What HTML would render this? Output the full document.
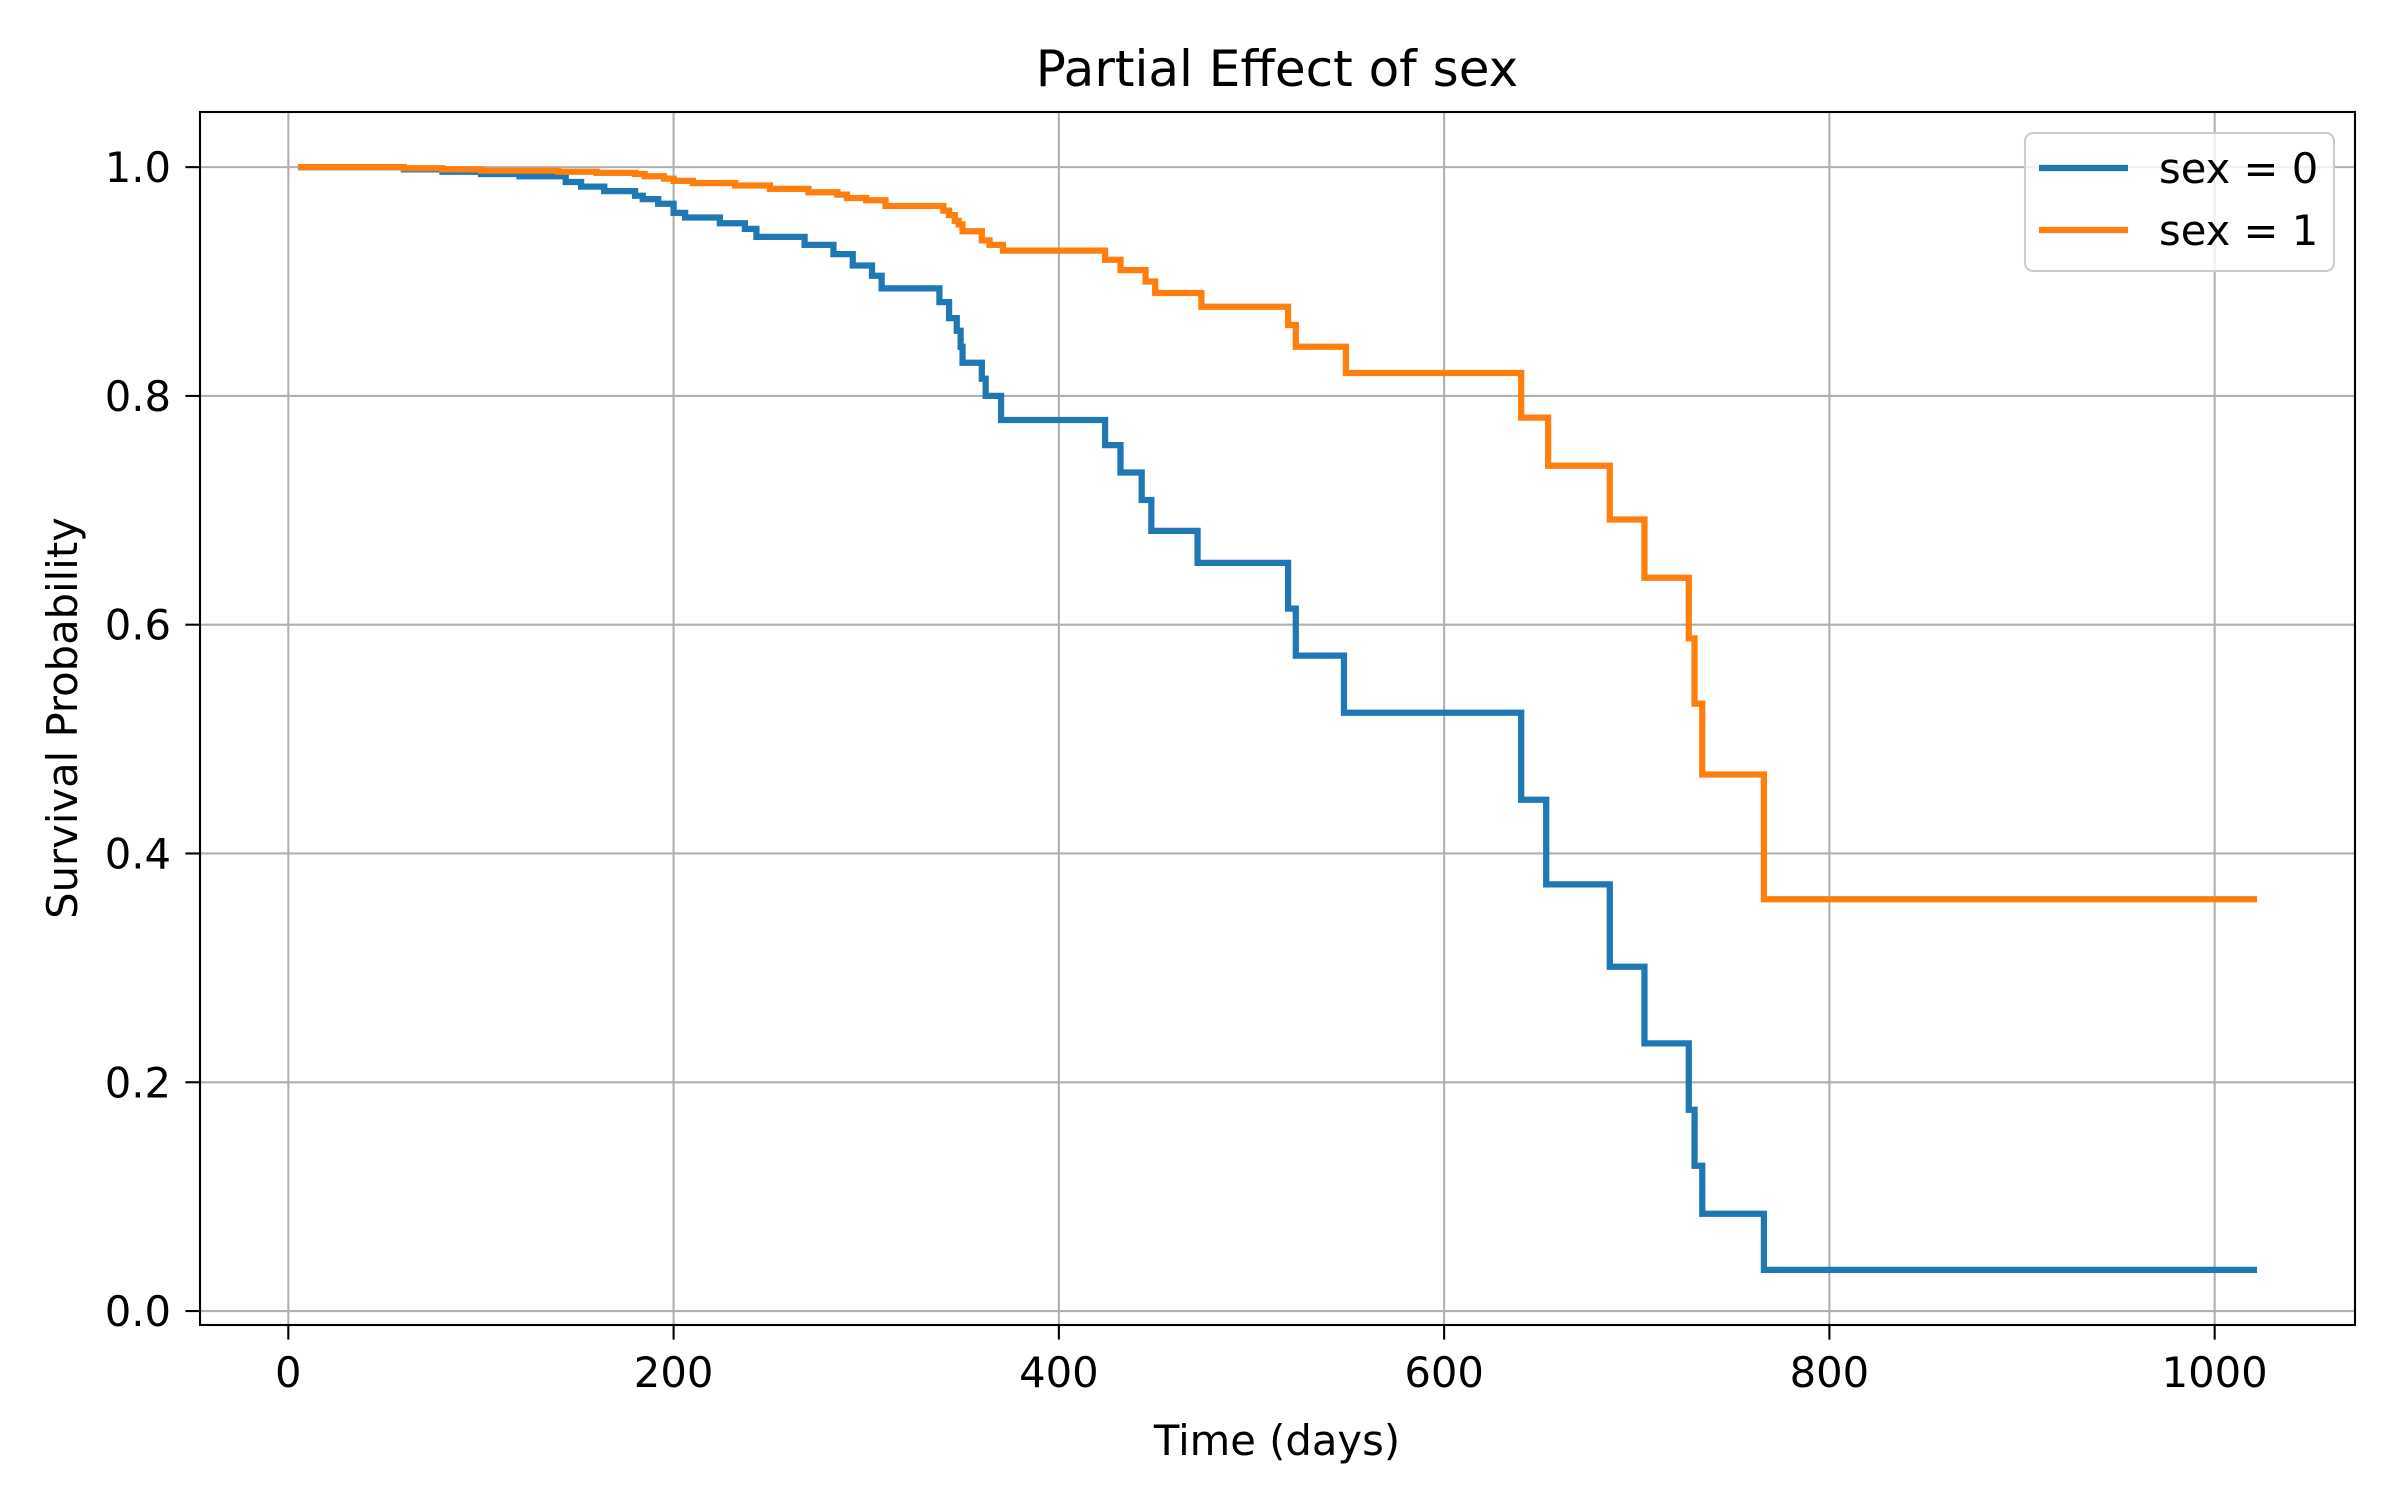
<!DOCTYPE html>
<html><head><meta charset="utf-8"><style>
html,body{margin:0;padding:0;background:#fff}
svg{display:block;font-family:"DejaVu Sans","Liberation Sans",sans-serif}
</style></head><body>
<svg id="chart" width="2400" height="1500" viewBox="0 0 2400 1500" xmlns="http://www.w3.org/2000/svg">
<rect width="2400" height="1500" fill="#fff"/>
<g id="grid"></g>
<g id="series"></g>
<rect x="200" y="112" width="2155" height="1213" fill="none" stroke="#000" stroke-width="2.1"/>
<g id="ticks" font-size="41.7" fill="#000"></g>
<text x="1277" y="86" font-size="50" text-anchor="middle">Partial Effect of sex</text>
<text x="1277" y="1455" font-size="41.7" text-anchor="middle">Time (days)</text>
<text transform="translate(77,718) rotate(-90)" font-size="41.7" text-anchor="middle">Survival Probability</text>
<g>
<rect x="2025" y="133" width="309" height="138" rx="8" fill="#fff" fill-opacity="0.8" stroke="#ccc" stroke-width="2.1"/>
<line x1="2039" y1="168" x2="2128" y2="168" stroke="#1f77b4" stroke-width="6.25"/>
<text x="2159" y="183" font-size="41.7">sex = 0</text>
<line x1="2039" y1="230" x2="2128" y2="230" stroke="#ff7f0e" stroke-width="6.25"/>
<text x="2159" y="245" font-size="41.7">sex = 1</text>
</g>
</svg>
<script>
const xTicks = [0, 200, 400, 600, 800, 1000];
const yTicks = [0.0, 0.2, 0.4, 0.6, 0.8, 1.0];
const yTickLabels = ["0.0", "0.2", "0.4", "0.6", "0.8", "1.0"];
const sex0Times = [5, 60, 80, 100, 120, 144, 152, 164, 180, 184, 192, 200, 206, 224, 237, 243, 268, 283, 293, 303, 308, 338, 343, 347, 349, 350, 360, 362, 370, 424, 432, 443, 448, 472, 519, 523, 548, 640, 653, 686, 704, 727, 730, 734, 766, 1022];
const sex0Surv = [1.0, 0.998, 0.996, 0.994, 0.992, 0.987, 0.983, 0.979, 0.975, 0.972, 0.968, 0.96, 0.956, 0.951, 0.946, 0.939, 0.932, 0.924, 0.914, 0.905, 0.894, 0.882, 0.868, 0.857, 0.843, 0.829, 0.815, 0.8, 0.779, 0.757, 0.733, 0.709, 0.682, 0.654, 0.614, 0.573, 0.523, 0.447, 0.373, 0.301, 0.234, 0.176, 0.127, 0.085, 0.036, 0.036];
const sex1Times = [5, 60, 80, 100, 140, 160, 180, 185, 195, 200, 210, 232, 250, 270, 285, 290, 300, 310, 340, 343, 346, 348, 350, 360, 364, 371, 424, 432, 445, 450, 474, 519, 523, 549, 640, 654, 686, 704, 727, 730, 734, 766, 1022];
const sex1Surv = [1.0, 0.999, 0.998, 0.997, 0.996, 0.995, 0.994, 0.992, 0.990, 0.988, 0.986, 0.984, 0.981, 0.978, 0.976, 0.973, 0.971, 0.966, 0.962, 0.958, 0.953, 0.950, 0.944, 0.936, 0.932, 0.927, 0.919, 0.910, 0.900, 0.890, 0.878, 0.862, 0.843, 0.820, 0.781, 0.739, 0.692, 0.641, 0.588, 0.531, 0.469, 0.360, 0.360];

const NS = "http://www.w3.org/2000/svg";
const L = 200, R = 2355, T = 112, B = 1325;
const allT = sex0Times.concat(sex1Times), allS = sex0Surv.concat(sex1Surv);
const tMin = Math.min(...allT), tMax = Math.max(...allT);
const sMin = Math.min(...allS), sMax = Math.max(...allS);
const xMin = tMin - 0.05 * (tMax - tMin), xMax = tMax + 0.05 * (tMax - tMin);
const yMin = sMin - 0.05 * (sMax - sMin), yMax = sMax + 0.05 * (sMax - sMin);
const sx = v => L + (v - xMin) / (xMax - xMin) * (R - L);
const sy = v => B - (v - yMin) / (yMax - yMin) * (B - T);
function mk(tag, attrs, parent) {
  const e = document.createElementNS(NS, tag);
  for (const k in attrs) e.setAttribute(k, attrs[k]);
  parent.appendChild(e);
  return e;
}
const grid = document.getElementById('grid'), ticks = document.getElementById('ticks'), series = document.getElementById('series');
xTicks.forEach(v => {
  const x = sx(v);
  const g = mk('line', {x1: x, x2: x, y1: T, y2: B, stroke: '#b0b0b0', 'stroke-width': 2.1}, grid);
  
  
  const tk = mk('line', {x1: x, x2: x, y1: B, y2: B + 14.6, stroke: '#000', 'stroke-width': 2.1}, ticks);
  
  
  const t = mk('text', {x: x, y: B + 62, 'text-anchor': 'middle'}, ticks);
  t.textContent = String(v);
  
  
});
yTicks.forEach((v, i) => {
  const y = sy(v);
  const g = mk('line', {x1: L, x2: R, y1: y, y2: y, stroke: '#b0b0b0', 'stroke-width': 2.1}, grid);
  
  
  const tk = mk('line', {x1: L - 14.6, x2: L, y1: y, y2: y, stroke: '#000', 'stroke-width': 2.1}, ticks);
  
  
  const t = mk('text', {x: L - 29, y: y + 15, 'text-anchor': 'end'}, ticks);
  t.textContent = yTickLabels[i];
  
  
});
function stepPath(ts, ss) {
  let d = 'M' + sx(ts[0]) + ',' + sy(ss[0]);
  for (let i = 1; i < ts.length; i++) {
    d += ' L' + sx(ts[i]) + ',' + sy(ss[i - 1]) + ' L' + sx(ts[i]) + ',' + sy(ss[i]);
  }
  return d;
}
const p0 = mk('path', {d: stepPath(sex0Times, sex0Surv), fill: 'none', stroke: '#1f77b4', 'stroke-width': 6.25, 'stroke-linejoin': 'miter'}, series);


const p1 = mk('path', {d: stepPath(sex1Times, sex1Surv), fill: 'none', stroke: '#ff7f0e', 'stroke-width': 6.25, 'stroke-linejoin': 'miter'}, series);


</script>
</body></html>
